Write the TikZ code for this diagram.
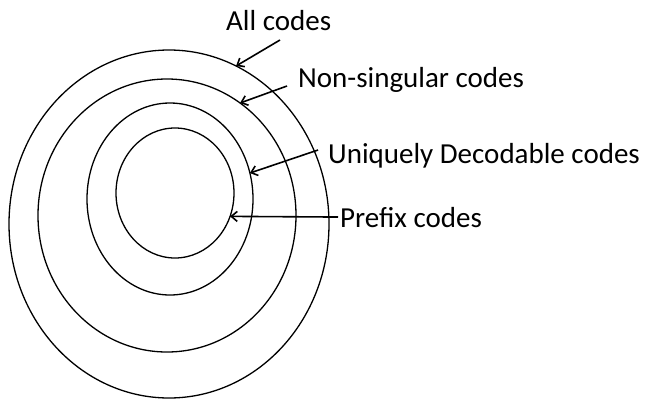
\documentclass[tikz,border=0pt]{standalone}
\usepackage{fontspec}
\setmainfont{Carlito}
\usetikzlibrary{shapes.geometric,arrows.meta}
\begin{document}
\begin{tikzpicture}[x=1pt,y=-1pt,
  ring/.style={draw,ellipse,inner sep=0pt,outer sep=0pt,line width=1.3pt},
  lbl/.style={inner sep=0pt,anchor=base west,font=\fontsize{29}{34}\selectfont},
  pointer/.style={line width=1.6pt,-{Straight Barb[length=6pt,width=10pt]}}]
\useasboundingbox (0,0) rectangle (651,400);
\node[ring,minimum width=320pt,minimum height=348pt] (outer) at (169,224) {};
\node[ring,minimum width=258pt,minimum height=273pt] (nonsing) at (167,215.5) {};
\node[ring,minimum width=166pt,minimum height=192pt] (ud) at (170,199) {};
\node[ring,minimum width=118pt,minimum height=130pt] (prefix) at (175,193) {};
\node[lbl] (tall) at (226,30) {All codes};
\node[lbl] (tnon) at (298,87) {Non-singular codes};
\node[lbl] (tud) at (328,163) {Uniquely Decodable codes};
\node[lbl] (tpre) at (340,227) {Prefix codes};
\coordinate (sall) at (280,40);
\coordinate (snon) at (287,86);
\coordinate (sud) at (318,150);
\draw[pointer] (sall) -- (outer.67.7);
\draw[pointer] (snon) -- (nonsing.57.7);
\draw[pointer] (sud) -- (ud.18.6);
\draw[pointer] (tpre.west) ++(-2,0) coordinate (spre) -- (prefix.-23.7);
\end{tikzpicture}
\end{document}
